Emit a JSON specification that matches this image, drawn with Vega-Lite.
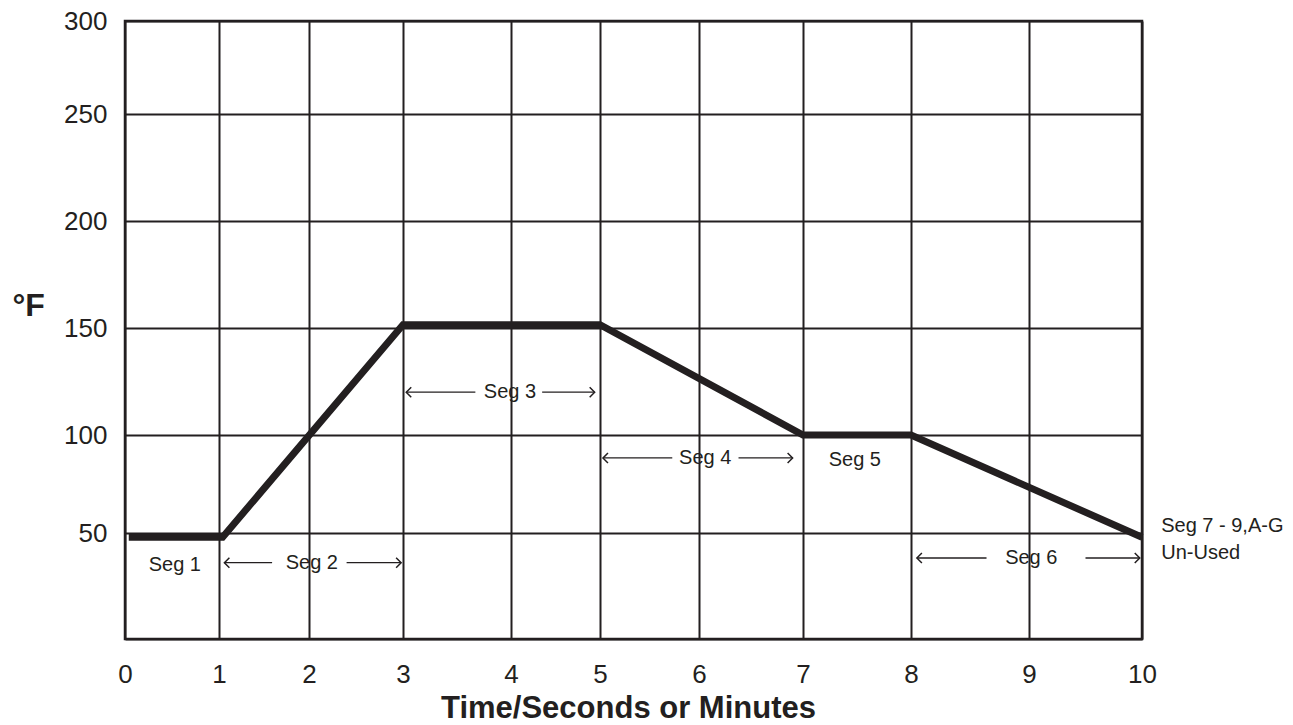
{
  "$schema": "https://vega.github.io/schema/vega-lite/v6.json",
  "width": 1017,
  "height": 618,
  "autosize": {"type": "none"},
  "padding": {"left": 125, "top": 21, "right": 151, "bottom": 86},
  "background": "white",
  "config": {
    "view": {"stroke": "#231f20", "strokeWidth": 2.5},
    "font": "Liberation Sans"
  },
  "datasets": {
    "profile": [
      {"x": 0.04, "y": 48},
      {"x": 1.04, "y": 48},
      {"x": 3, "y": 151.5},
      {"x": 5, "y": 151.5},
      {"x": 7, "y": 100},
      {"x": 8, "y": 100},
      {"x": 10, "y": 48}
    ],
    "arrows": [
      {"seg": "Seg 2", "x": 1.06, "x2": 1.59, "y": 36},
      {"seg": "Seg 2", "x": 2.40, "x2": 2.98, "y": 36},
      {"seg": "Seg 3", "x": 3.03, "x2": 3.67, "y": 120},
      {"seg": "Seg 3", "x": 4.35, "x2": 4.94, "y": 120},
      {"seg": "Seg 4", "x": 5.03, "x2": 5.73, "y": 88.3},
      {"seg": "Seg 4", "x": 6.38, "x2": 6.90, "y": 88.3},
      {"seg": "Seg 6", "x": 8.05, "x2": 8.64, "y": 38.2},
      {"seg": "Seg 6", "x": 9.50, "x2": 9.98, "y": 38.2}
    ],
    "heads": [
      {"x": 1.06, "y": 36, "dir": "left"},
      {"x": 2.98, "y": 36, "dir": "right"},
      {"x": 3.03, "y": 120, "dir": "left"},
      {"x": 4.94, "y": 120, "dir": "right"},
      {"x": 5.03, "y": 88.3, "dir": "left"},
      {"x": 6.90, "y": 88.3, "dir": "right"},
      {"x": 8.05, "y": 38.2, "dir": "left"},
      {"x": 9.98, "y": 38.2, "dir": "right"}
    ],
    "labels": [
      {"label": "Seg 1", "x": 0.53, "y": 35},
      {"label": "Seg 2", "x": 2.03, "y": 36},
      {"label": "Seg 3", "x": 3.99, "y": 120},
      {"label": "Seg 4", "x": 6.06, "y": 88.3},
      {"label": "Seg 5", "x": 7.48, "y": 87},
      {"label": "Seg 6", "x": 9.02, "y": 38.2}
    ],
    "side": [
      {"label": "Seg 7 - 9,A-G", "x": 10.17, "y": 53.6},
      {"label": "Un-Used", "x": 10.17, "y": 40.6}
    ]
  },
  "encoding": {
    "x": {
      "field": "x",
      "type": "quantitative",
      "scale": {
        "domain": [0, 1, 2, 3, 4, 5, 6, 7, 8, 9, 10],
        "range": [0, 94, 184, 278, 386, 475, 574, 678, 786, 904, 1017],
        "nice": false,
        "zero": false
      },
      "axis": {
        "values": [0, 1, 2, 3, 4, 5, 6, 7, 8, 9, 10],
        "grid": true,
        "gridColor": "#231f20",
        "gridWidth": 2,
        "gridOpacity": 1,
        "domain": false,
        "ticks": false,
        "tickSize": 0,
        "labelFont": "Liberation Sans",
        "labelFontSize": 26,
        "labelColor": "#231f20",
        "labelPadding": 22,
        "labelFlush": false,
        "labelOverlap": false,
        "labelBound": false,
        "title": "Time/Seconds or Minutes",
        "titleFont": "Liberation Sans",
        "titleFontSize": 31,
        "titleFontWeight": "bold",
        "titleColor": "#231f20",
        "titleX": 503,
        "titleY": 78,
        "titleAlign": "center",
        "titleBaseline": "alphabetic"
      }
    },
    "y": {
      "field": "y",
      "type": "quantitative",
      "scale": {
        "domain": [0, 50, 100, 150, 200, 250, 300],
        "range": [618, 512, 414, 307, 200, 93, 0],
        "nice": false,
        "zero": false
      },
      "axis": {
        "values": [0, 50, 100, 150, 200, 250, 300],
        "labelExpr": "datum.value == 0 ? '' : datum.label",
        "grid": true,
        "gridColor": "#231f20",
        "gridWidth": 2,
        "gridOpacity": 1,
        "domain": false,
        "ticks": false,
        "tickSize": 0,
        "labelFont": "Liberation Sans",
        "labelFontSize": 26,
        "labelColor": "#231f20",
        "labelPadding": 18,
        "labelBaseline": "middle",
        "labelFlush": false,
        "labelOverlap": false,
        "labelBound": false,
        "title": "°F",
        "titleAngle": 0,
        "titleFont": "Liberation Sans",
        "titleFontSize": 32,
        "titleFontWeight": "bold",
        "titleColor": "#231f20",
        "titleX": -113,
        "titleY": 294,
        "titleAlign": "left",
        "titleBaseline": "alphabetic"
      }
    }
  },
  "layer": [
    {
      "data": {"name": "arrows"},
      "mark": {"type": "rule", "stroke": "#231f20", "strokeWidth": 1.3},
      "encoding": {"x2": {"field": "x2"}}
    },
    {
      "data": {"name": "heads"},
      "mark": {"type": "point", "filled": false, "stroke": "#231f20", "strokeWidth": 1.5, "size": 100, "opacity": 1},
      "encoding": {
        "shape": {
          "field": "dir",
          "type": "nominal",
          "scale": {"domain": ["left", "right"], "range": ["M1,-1L0,0L1,1", "M-1,-1L0,0L-1,1"]},
          "legend": null
        }
      }
    },
    {
      "data": {"name": "labels"},
      "mark": {"type": "text", "font": "Liberation Sans", "fontSize": 20, "color": "#231f20", "align": "center", "baseline": "middle"},
      "encoding": {"text": {"field": "label"}}
    },
    {
      "data": {"name": "side"},
      "mark": {"type": "text", "font": "Liberation Sans", "fontSize": 20, "color": "#231f20", "align": "left", "baseline": "middle"},
      "encoding": {"text": {"field": "label"}}
    },
    {
      "data": {"name": "profile"},
      "mark": {"type": "line", "stroke": "#231f20", "strokeWidth": 7, "strokeJoin": "miter", "strokeCap": "butt"},
      "encoding": {}
    }
  ]
}
